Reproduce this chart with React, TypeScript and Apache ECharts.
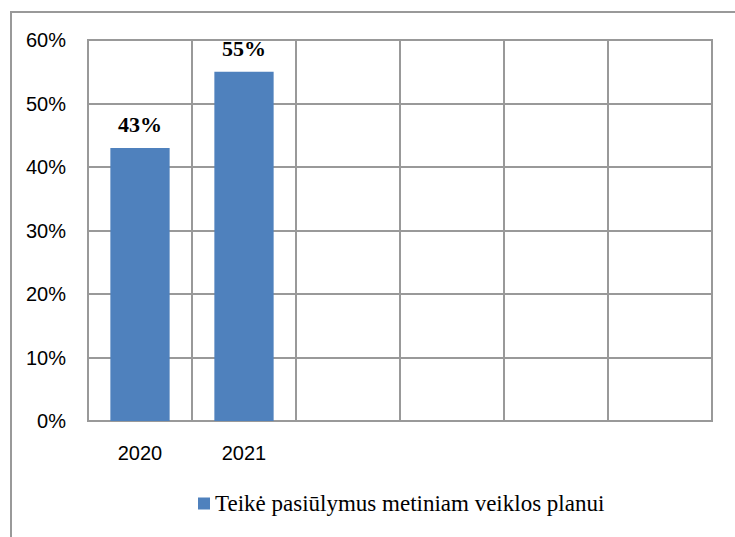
import React, { useEffect, useRef } from "react";
import * as echarts from "echarts";

const categories = ["2020", "2021", "", "", "", ""];
const values = [43, 55, null, null, null, null];
const seriesName = "Teikė pasiūlymus metiniam veiklos planui";
const yMin = 0;
const yMax = 60;
const yInterval = 10;

export default function App() {
  const ref = useRef<HTMLDivElement>(null);
  useEffect(() => {
    if (!ref.current) return;
    const chart = echarts.init(ref.current, undefined, { renderer: "svg" });
    chart.setOption({
      animation: false,
      backgroundColor: "#ffffff",
      graphic: [
        {
          type: "rect",
          shape: { x: 11, y: 12, width: 800, height: 600 },
          style: { fill: "none", stroke: "#999999", lineWidth: 2 },
          silent: true,
        },
      ],
      grid: {
        left: 88,
        right: 23,
        top: 40,
        bottom: 116,
        show: true,
        borderColor: "#999999",
        borderWidth: 2,
        containLabel: false,
      },
      legend: {
        show: true,
        left: 193,
        top: 487,
        icon: "rect",
        itemWidth: 12,
        itemHeight: 12,
        itemGap: 7,
        data: [seriesName],
        textStyle: {
          fontFamily: "Liberation Serif",
          fontSize: 23,
          color: "#000000",
        },
      },
      xAxis: {
        type: "category",
        data: categories,
        boundaryGap: true,
        axisTick: { show: false },
        axisLine: { show: true, lineStyle: { color: "#999999", width: 2 } },
        axisLabel: {
          margin: 22,
          fontFamily: "Liberation Sans",
          fontSize: 20,
          color: "#000000",
        },
        splitLine: { show: true, lineStyle: { color: "#999999", width: 2 } },
      },
      yAxis: {
        type: "value",
        min: yMin,
        max: yMax,
        interval: yInterval,
        axisTick: { show: false },
        axisLine: { show: false },
        axisLabel: {
          margin: 22,
          formatter: "{value}%",
          fontFamily: "Liberation Sans",
          fontSize: 20,
          color: "#000000",
        },
        splitLine: { show: true, lineStyle: { color: "#999999", width: 2 } },
      },
      series: [
        {
          name: seriesName,
          type: "bar",
          data: values,
          barWidth: "57%",
          itemStyle: { color: "#4F81BD" },
          label: {
            show: true,
            position: "top",
            distance: 12,
            formatter: "{c}%",
            fontFamily: "Liberation Serif",
            fontWeight: "bold",
            fontSize: 22,
            color: "#000000",
          },
        },
      ],
    });
    return () => chart.dispose();
  }, []);
  return (
    <div
      ref={ref}
      style={{ position: "fixed", left: 0, top: 0, width: 735, height: 537 }}
    />
  );
}
